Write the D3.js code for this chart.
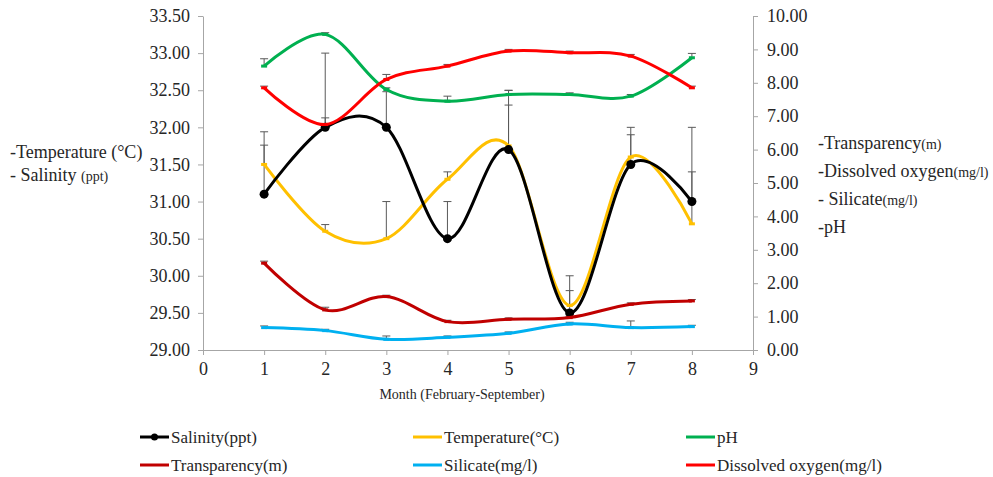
<!DOCTYPE html>
<html>
<head>
<meta charset="utf-8">
<script src="https://cdn.jsdelivr.net/npm/d3@7"></script>
<style>
  body { margin: 0; background: #fff; }
</style>
</head>
<body>
<svg id="chart" width="993" height="477"></svg>
<script>
const months = [1, 2, 3, 4, 5, 6, 7, 8];
const xTicks = [0, 1, 2, 3, 4, 5, 6, 7, 8, 9];
const leftTicks = [29, 29.5, 30, 30.5, 31, 31.5, 32, 32.5, 33, 33.5];
const rightTicks = [0, 1, 2, 3, 4, 5, 6, 7, 8, 9, 10];

const salinity = [31.1, 32.0, 32.0, 30.5, 31.7, 29.5, 31.5, 31.0];
const salinityErr = [0.84, 1.0, 0.48, 0.5, 0.8, 0.5, 0.5, 1.0];
const temperature = [31.5, 30.6, 30.5, 31.3, 31.75, 29.6, 31.6, 30.7];
const temperatureErr = [0.26, 0.09, 0.5, 0.1, 0.55, 0.2, 0.3, 0.7];
const ph = [8.5, 9.45, 7.8, 7.45, 7.65, 7.65, 7.6, 8.75];
const phErr = [0.22, 0.05, 0.05, 0.15, 0.12, 0.05, 0.05, 0.13];
const transparency = [2.6, 1.2, 1.6, 0.85, 0.92, 0.97, 1.37, 1.47];
const transparencyErr = [0.06, 0.08, 0.04, 0.04, 0.04, 0.04, 0.04, 0.04];
const silicate = [0.67, 0.58, 0.32, 0.38, 0.5, 0.78, 0.67, 0.7];
const silicateErr = [0.05, 0.04, 0.1, 0.04, 0.04, 0.05, 0.2, 0.04];
const oxygen = [7.85, 6.75, 8.1, 8.5, 8.95, 8.9, 8.8, 7.85];
const oxygenErr = [0.05, 0.2, 0.15, 0.05, 0.05, 0.05, 0.05, 0.05];

const series = [
  { name: 'Temperature(°C)', values: temperature, err: temperatureErr, color: '#ffc000', axis: 'left' },
  { name: 'Salinity(ppt)', values: salinity, err: salinityErr, color: '#000000', axis: 'left', dot: true },
  { name: 'pH', values: ph, err: phErr, color: '#00b050', axis: 'right' },
  { name: 'Transparency(m)', values: transparency, err: transparencyErr, color: '#c00000', axis: 'right' },
  { name: 'Silicate(mg/l)', values: silicate, err: silicateErr, color: '#00b0f0', axis: 'right' },
  { name: 'Dissolved oxygen(mg/l)', values: oxygen, err: oxygenErr, color: '#ff0000', axis: 'right' }
];

const legendOrder = ['Salinity(ppt)', 'Temperature(°C)', 'pH', 'Transparency(m)', 'Silicate(mg/l)', 'Dissolved oxygen(mg/l)'];

const FONT = 'Liberation Serif';
const svg = d3.select('#chart').attr('font-family', FONT);
const margin = { left: 203, right: 240, top: 16, bottom: 127 };
const width = 993 - margin.left - margin.right;
const height = 477 - margin.top - margin.bottom;

const x = d3.scaleLinear().domain([0, 9]).range([0, width]);
const yL = d3.scaleLinear().domain([29, 33.5]).range([height, 0]);
const yR = d3.scaleLinear().domain([0, 10]).range([height, 0]);

const g = svg.append('g').attr('transform', `translate(${margin.left},${margin.top})`);

function styleAxis(sel) {
  sel.attr('font-family', FONT).attr('font-size', 18);
  sel.select('.domain').attr('stroke', '#a6a6a6').attr('stroke-width', 1);
  sel.selectAll('.tick line').attr('stroke', '#a6a6a6');
  sel.selectAll('.tick text').attr('fill', '#262626').attr('font-family', FONT);
}

g.append('g')
  .attr('transform', `translate(0,${height})`)
  .call(d3.axisBottom(x).tickValues(xTicks).tickSize(5).tickSizeOuter(0).tickPadding(7).tickFormat(d3.format('d')))
  .call(styleAxis);

g.append('g')
  .call(d3.axisLeft(yL).tickValues(leftTicks).tickSize(5).tickSizeOuter(0).tickPadding(8).tickFormat(d3.format('.2f')))
  .call(styleAxis);

g.append('g')
  .attr('transform', `translate(${width},0)`)
  .call(d3.axisRight(yR).tickValues(rightTicks).tickSize(5).tickSizeOuter(0).tickPadding(9).tickFormat(d3.format('.2f')))
  .call(styleAxis);

// error bars (plus direction only)
const errG = g.append('g').attr('stroke', '#595959').attr('stroke-width', 1);
series.forEach(s => {
  const y = s.axis === 'left' ? yL : yR;
  months.forEach((m, i) => {
    const x0 = x(m), y0 = y(s.values[i]), y1 = y(s.values[i] + s.err[i]);
    errG.append('line').attr('x1', x0).attr('x2', x0).attr('y1', y0).attr('y2', y1);
    errG.append('line').attr('x1', x0 - 4).attr('x2', x0 + 4).attr('y1', y1).attr('y2', y1);
  });
});

// smoothed lines
series.forEach(s => {
  const y = s.axis === 'left' ? yL : yR;
  const line = d3.line()
    .x((d, i) => x(months[i]))
    .y(d => y(d))
    .curve(d3.curveCatmullRom.alpha(0));
  g.append('path')
    .datum(s.values)
    .attr('fill', 'none')
    .attr('stroke', s.color)
    .attr('stroke-width', 3)
    .attr('d', line);
  if (s.dot) {
    g.selectAll(null).data(s.values).enter().append('circle')
      .attr('cx', (d, i) => x(months[i]))
      .attr('cy', d => y(d))
      .attr('r', 4.5)
      .attr('fill', s.color);
  } else {
    g.selectAll(null).data(s.values).enter().append('line')
      .attr('x1', (d, i) => x(months[i]) - 3)
      .attr('x2', (d, i) => x(months[i]) + 3)
      .attr('y1', d => y(d))
      .attr('y2', d => y(d))
      .attr('stroke', s.color)
      .attr('stroke-width', 3);
  }
});

// x axis title
svg.append('text')
  .attr('x', 462)
  .attr('y', 399)
  .attr('text-anchor', 'middle')
  .attr('font-family', FONT)
  .attr('font-size', 14)
  .attr('fill', '#262626')
  .text('Month (February-September)');

// side annotations
const leftNotes = [
  { main: '-Temperature (°C)', small: '', y: 158 },
  { main: '- Salinity ', small: '(ppt)', y: 181 }
];
const rightNotes = [
  { main: '-Transparency', small: '(m)', y: 149 },
  { main: '-Dissolved oxygen', small: '(mg/l)', y: 177 },
  { main: '- Silicate', small: '(mg/l)', y: 205 },
  { main: '-pH', small: '', y: 233 }
];
function note(xPos, d) {
  const t = svg.append('text').attr('x', xPos).attr('y', d.y)
    .attr('font-family', FONT).attr('font-size', 18).attr('fill', '#262626');
  t.append('tspan').text(d.main);
  if (d.small) t.append('tspan').attr('font-size', 14).text(d.small);
}
leftNotes.forEach(d => note(10, d));
rightNotes.forEach(d => note(818, d));

// legend
const legendPos = [
  { x: 140, y: 437 }, { x: 413, y: 437 }, { x: 686, y: 437 },
  { x: 140, y: 465 }, { x: 413, y: 465 }, { x: 686, y: 465 }
];
legendOrder.forEach((name, i) => {
  const s = series.find(d => d.name === name);
  const p = legendPos[i];
  const lg = svg.append('g').attr('transform', `translate(${p.x},${p.y})`);
  lg.append('line').attr('x1', 0).attr('x2', 29).attr('y1', 0).attr('y2', 0)
    .attr('stroke', s.color).attr('stroke-width', 3);
  if (s.dot) lg.append('circle').attr('cx', 14.5).attr('cy', 0).attr('r', 3.5).attr('fill', s.color);
  lg.append('text').attr('x', 31).attr('y', 6).attr('font-family', FONT)
    .attr('font-size', 17).attr('fill', '#262626').text(name);
});
</script>
</body>
</html>
